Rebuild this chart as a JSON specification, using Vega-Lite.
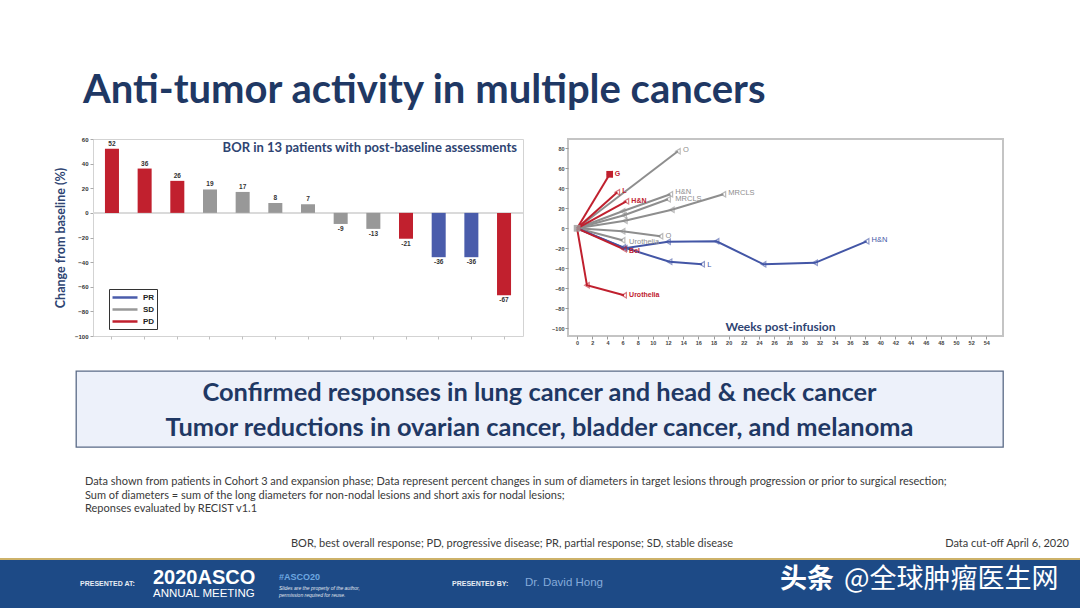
{
 "$schema": "https://vega.github.io/schema/vega-lite/v6.json",
 "background": "#ffffff",
 "padding": 0,
 "spacing": 0,
 "bounds": "flush",
 "config": {"view": {"stroke": null}, "font": "Liberation Sans", "axis": {"grid": false, "labelOverlap": false}},
 "datasets": {
  "bor": [
   {"id": 1, "chg": 52, "bor": "PD"}, {"id": 2, "chg": 36, "bor": "PD"}, {"id": 3, "chg": 26, "bor": "PD"},
   {"id": 4, "chg": 19, "bor": "SD"}, {"id": 5, "chg": 17, "bor": "SD"}, {"id": 6, "chg": 8, "bor": "SD"},
   {"id": 7, "chg": 7, "bor": "SD"}, {"id": 8, "chg": -9, "bor": "SD"}, {"id": 9, "chg": -13, "bor": "SD"},
   {"id": 10, "chg": -21, "bor": "PD"}, {"id": 11, "chg": -36, "bor": "PR"}, {"id": 12, "chg": -36, "bor": "PR"},
   {"id": 13, "chg": -67, "bor": "PD"}
  ],
  "spider": [
   {"s": "s6", "g": "SD", "o": 0, "w": 0, "v": 0}, {"s": "s6", "g": "SD", "o": 1, "w": 13.3, "v": 77},
   {"s": "s7", "g": "SD", "o": 0, "w": 0, "v": 0}, {"s": "s7", "g": "SD", "o": 1, "w": 6, "v": 17}, {"s": "s7", "g": "SD", "o": 2, "w": 12.3, "v": 34},
   {"s": "s8", "g": "SD", "o": 0, "w": 0, "v": 0}, {"s": "s8", "g": "SD", "o": 1, "w": 6.2, "v": 13}, {"s": "s8", "g": "SD", "o": 2, "w": 12, "v": 29},
   {"s": "s9", "g": "SD", "o": 0, "w": 0, "v": 0}, {"s": "s9", "g": "SD", "o": 1, "w": 6.3, "v": 7.5}, {"s": "s9", "g": "SD", "o": 2, "w": 12.5, "v": 18.5}, {"s": "s9", "g": "SD", "o": 3, "w": 19.3, "v": 34},
   {"s": "s10", "g": "SD", "o": 0, "w": 0, "v": 0}, {"s": "s10", "g": "SD", "o": 1, "w": 6, "v": -3}, {"s": "s10", "g": "SD", "o": 2, "w": 11, "v": -8},
   {"s": "s11", "g": "SD", "o": 0, "w": 0, "v": 0}, {"s": "s11", "g": "SD", "o": 1, "w": 6, "v": -12},
   {"s": "s12", "g": "PR", "o": 0, "w": 0, "v": 0}, {"s": "s12", "g": "PR", "o": 1, "w": 6.3, "v": -20}, {"s": "s12", "g": "PR", "o": 2, "w": 12, "v": -13.5}, {"s": "s12", "g": "PR", "o": 3, "w": 18.4, "v": -13}, {"s": "s12", "g": "PR", "o": 4, "w": 24.6, "v": -36}, {"s": "s12", "g": "PR", "o": 5, "w": 31.4, "v": -34.5}, {"s": "s12", "g": "PR", "o": 6, "w": 38.2, "v": -13},
   {"s": "s13", "g": "PR", "o": 0, "w": 0, "v": 0}, {"s": "s13", "g": "PR", "o": 1, "w": 6.1, "v": -19}, {"s": "s13", "g": "PR", "o": 2, "w": 12.2, "v": -33.5}, {"s": "s13", "g": "PR", "o": 3, "w": 16.5, "v": -36},
   {"s": "s1", "g": "PD", "o": 0, "w": 0, "v": 0}, {"s": "s1", "g": "PD", "o": 1, "w": 4.3, "v": 54},
   {"s": "s2", "g": "PD", "o": 0, "w": 0, "v": 0}, {"s": "s2", "g": "PD", "o": 1, "w": 5.3, "v": 36},
   {"s": "s3", "g": "PD", "o": 0, "w": 0, "v": 0}, {"s": "s3", "g": "PD", "o": 1, "w": 6.5, "v": 27},
   {"s": "s4", "g": "PD", "o": 0, "w": 0, "v": 0}, {"s": "s4", "g": "PD", "o": 1, "w": 6.2, "v": -21},
   {"s": "s5", "g": "PD", "o": 0, "w": 0, "v": 0}, {"s": "s5", "g": "PD", "o": 1, "w": 1.3, "v": -57}, {"s": "s5", "g": "PD", "o": 2, "w": 6.2, "v": -67}
  ],
  "slab": [
   {"lab": "G", "g": "PD", "w": 4.3, "v": 54}, {"lab": "L", "g": "PD", "w": 5.3, "v": 37},
   {"lab": "H&N", "g": "PD", "w": 6.5, "v": 27}, {"lab": "Bel", "g": "PD", "w": 6.2, "v": -23},
   {"lab": "Urothelia", "g": "PD", "w": 6.2, "v": -67},
   {"lab": "O", "g": "SD", "w": 13.3, "v": 78}, {"lab": "H&N", "g": "SD", "w": 12.3, "v": 36},
   {"lab": "MRCLS", "g": "SD", "w": 12.3, "v": 29}, {"lab": "MRCLS", "g": "SD", "w": 19.3, "v": 35},
   {"lab": "O", "g": "SD", "w": 11, "v": -8}, {"lab": "Urothelia", "g": "SD", "w": 6.2, "v": -14},
   {"lab": "H&N", "g": "PR", "w": 38.2, "v": -12}, {"lab": "L", "g": "PR", "w": 16.5, "v": -37}
  ]
 },
 "vconcat": [
  {
   "width": 1080, "height": 139,
   "data": {"values": [{"t": "Anti-tumor activity in multiple cancers"}]},
   "mark": {"type": "text", "align": "left", "baseline": "alphabetic", "font": "Lato", "fontSize": 40, "fontWeight": "bold", "color": "#1F3864"},
   "encoding": {"text": {"field": "t"}, "x": {"value": 83}, "y": {"value": 103}}
  },
  {
   "spacing": 0, "bounds": "flush",
   "resolve": {"scale": {"color": "independent"}, "legend": {"color": "independent"}},
   "hconcat": [
    {"width": 93, "height": 197, "data": {"values": [{}]}, "mark": {"type": "text", "text": ""}},
    {
     "width": 430, "height": 197,
     "view": {"stroke": "#d3d3d3", "strokeWidth": 1},
     "title": {"text": "BOR in 13 patients with post-baseline assessments", "anchor": "end", "frame": "group", "orient": "top", "offset": -19, "dx": -6, "font": "Lato", "fontSize": 13, "fontWeight": "bold", "color": "#2E4472"},
     "data": {"name": "bor"},
     "resolve": {"legend": {"color": "independent"}},
     "layer": [
      {"mark": {"type": "rule", "color": "#dadada", "strokeWidth": 1},
       "encoding": {"y": {"datum": 0, "type": "quantitative", "scale": {"domain": [-100, 60], "nice": false}, "axis": {"labelOverlap": false, "tickCount": 60}}}},
      {"mark": {"type": "bar"},
       "encoding": {
        "x": {"field": "id", "type": "ordinal", "scale": {"paddingInner": 0.571, "paddingOuter": 0.366},
              "axis": {"labels": false, "title": null, "ticks": true, "tickSize": 3, "tickColor": "#c0c0c0", "domain": false}},
        "y": {"field": "chg", "type": "quantitative", "scale": {"domain": [-100, 60], "nice": false},
              "axis": {"values": [-100, -80, -60, -40, -20, 0, 20, 40, 60], "tickCount": 60, "title": "Change from baseline (%)", "titleFont": "Lato", "titleFontSize": 12.5, "titleFontWeight": "bold", "titleColor": "#2E4472", "titlePadding": 7,
                       "labelFontSize": 6, "labelFontWeight": "bold", "labelColor": "#333333", "tickSize": 3, "tickColor": "#aaaaaa", "labelPadding": 2, "domain": false, "labelOverlap": false}},
        "color": {"field": "bor", "type": "nominal", "scale": {"domain": ["PR", "SD", "PD"], "range": ["#4A5CAB", "#989898", "#C1202E"]}, "legend": null}
       }},
      {"transform": [{"filter": "datum.chg >= 0"}], "mark": {"type": "text", "baseline": "bottom", "dy": -2, "fontSize": 6.5, "fontWeight": "bold", "color": "#333333"},
       "encoding": {"x": {"field": "id", "type": "ordinal"}, "y": {"field": "chg", "type": "quantitative"}, "text": {"field": "chg"}}},
      {"transform": [{"filter": "datum.chg < 0"}], "mark": {"type": "text", "baseline": "top", "dy": 2, "fontSize": 6.5, "fontWeight": "bold", "color": "#333333"},
       "encoding": {"x": {"field": "id", "type": "ordinal"}, "y": {"field": "chg", "type": "quantitative"}, "text": {"field": "chg"}}},
      {"transform": [{"filter": "false"}], "mark": {"type": "line"},
       "encoding": {
        "x": {"field": "id", "type": "ordinal"}, "y": {"field": "chg", "type": "quantitative"},
        "color": {"field": "bor", "type": "nominal", "scale": {"domain": ["PR", "SD", "PD"], "range": ["#4A5CAB", "#989898", "#C1202E"]},
                  "legend": {"orient": "none", "legendX": 16, "legendY": 150, "title": null, "symbolType": "M-1,0H4", "symbolSize": 100, "symbolStrokeWidth": 2.5,
                             "labelFontSize": 8, "labelFontWeight": "bold", "labelColor": "#222222", "labelOffset": 19, "strokeColor": "#333333", "fillColor": "#ffffff", "padding": 2, "rowPadding": 0}}
       }}
     ]
    },
    {"width": 45, "height": 197, "data": {"values": [{}]}, "mark": {"type": "text", "text": ""}},
    {
     "width": 435, "height": 197,
     "view": {"stroke": "#c4c4c4", "strokeWidth": 2},
     "layer": [
      {"mark": {"type": "rule", "color": "#E57373", "strokeWidth": 1, "strokeDash": [1, 2]},
       "encoding": {"y": {"datum": 20, "type": "quantitative", "scale": {"domain": [-107.7, 89.3], "nice": false, "zero": false}, "axis": {"labelOverlap": false, "tickCount": 60}}}},
      {"mark": {"type": "rule", "color": "#9a9a9a", "strokeWidth": 1},
       "encoding": {"y": {"datum": 0, "type": "quantitative", "axis": {"labelOverlap": false, "tickCount": 60}}}},
      {"mark": {"type": "rule", "color": "#8CC68C", "strokeWidth": 1, "strokeDash": [1, 2]},
       "encoding": {"y": {"datum": -30, "type": "quantitative", "axis": {"labelOverlap": false, "tickCount": 60}}}},
      {"data": {"name": "spider"}, "mark": {"type": "line", "strokeWidth": 2},
       "encoding": {
        "x": {"field": "w", "type": "quantitative", "scale": {"domain": [-1.2, 56.2], "nice": false, "zero": false},
              "axis": {"values": [0, 2, 4, 6, 8, 10, 12, 14, 16, 18, 20, 22, 24, 26, 28, 30, 32, 34, 36, 38, 40, 42, 44, 46, 48, 50, 52, 54], "tickCount": 60,
                       "title": "Weeks post-infusion", "titleFont": "Lato", "titleFontSize": 12, "titleFontWeight": "bold", "titleColor": "#2E4472", "titleY": -6, "titleX": 212, "titleBaseline": "alphabetic",
                       "labelFontSize": 5.5, "labelFontWeight": "bold", "labelColor": "#444444", "tickSize": 3, "tickColor": "#999999", "labelPadding": 1, "domain": false, "labelFlush": false, "labelOverlap": false}},
        "y": {"field": "v", "type": "quantitative", "scale": {"domain": [-107.7, 89.3], "nice": false, "zero": false},
              "axis": {"values": [-100, -80, -60, -40, -20, 0, 20, 40, 60, 80], "tickCount": 60, "title": null, "labelFontSize": 5.5, "labelFontWeight": "bold", "labelColor": "#444444", "tickSize": 3, "tickColor": "#999999", "labelPadding": 1, "domain": false, "labelOverlap": false}},
        "detail": {"field": "s"},
        "order": {"field": "o", "type": "quantitative"},
        "color": {"field": "g", "type": "nominal", "scale": {"domain": ["PR", "SD", "PD"], "range": ["#4356A6", "#8E8E8E", "#C0202E"]}, "legend": null}
       }},
      {"data": {"name": "spider"}, "transform": [{"filter": "datum.w > 0"}], "mark": {"type": "point", "shape": "triangle-left", "filled": false, "size": 28, "strokeWidth": 1.2, "opacity": 0.6},
       "encoding": {
        "x": {"field": "w", "type": "quantitative"},
        "y": {"field": "v", "type": "quantitative"},
        "color": {"field": "g", "type": "nominal", "legend": null}
       }},
      {"data": {"name": "spider"}, "transform": [{"filter": "datum.s == 's1' && datum.w > 0"}], "mark": {"type": "square", "color": "#C0202E", "size": 45, "opacity": 1},
       "encoding": {
        "x": {"field": "w", "type": "quantitative"},
        "y": {"field": "v", "type": "quantitative"}
       }},
      {"data": {"values": [{"w": 0, "v": 0}]}, "mark": {"type": "square", "color": "#9a9a9a", "size": 45, "opacity": 0.8},
       "encoding": {
        "x": {"field": "w", "type": "quantitative"},
        "y": {"field": "v", "type": "quantitative"}
       }},
      {"data": {"name": "slab"}, "transform": [{"filter": "datum.g == 'PD'"}], "mark": {"type": "text", "align": "left", "baseline": "middle", "dx": 5, "fontSize": 7, "fontWeight": "bold"},
       "encoding": {
        "x": {"field": "w", "type": "quantitative"},
        "y": {"field": "v", "type": "quantitative"},
        "text": {"field": "lab"},
        "color": {"field": "g", "type": "nominal", "legend": null}
       }},
      {"data": {"name": "slab"}, "transform": [{"filter": "datum.g != 'PD'"}], "mark": {"type": "text", "align": "left", "baseline": "middle", "dx": 5, "fontSize": 7.5},
       "encoding": {
        "x": {"field": "w", "type": "quantitative"},
        "y": {"field": "v", "type": "quantitative"},
        "text": {"field": "lab"},
        "color": {"field": "g", "type": "nominal", "legend": null}
       }}
     ]
    }
   ]
  },
  {"width": 1080, "height": 232, "data": {"values": [{}]}, "mark": {"type": "text", "text": ""}},
  {
   "spacing": 0, "bounds": "flush",
   "hconcat": [
    {"width": 76, "height": 76, "data": {"values": [{}]}, "mark": {"type": "text", "text": ""}},
    {
     "width": 927, "height": 76,
     "view": {"fill": "#EDF1FA", "stroke": "#5A6A86", "strokeWidth": 1.3},
     "data": {"values": [{"i": 1, "t": "Confirmed responses in lung cancer and head & neck cancer"}, {"i": 2, "t": "Tumor reductions in ovarian cancer, bladder cancer, and melanoma"}]},
     "mark": {"type": "text", "font": "Lato", "fontSize": 25.4, "fontWeight": "bold", "color": "#1F3864", "baseline": "middle", "dy": 1.5},
     "encoding": {"text": {"field": "t"}, "y": {"field": "i", "type": "ordinal", "axis": null, "scale": {"type": "point", "padding": 0.586}}}
    }
   ]
  },
  {
   "width": 1080, "height": 187,
   "layer": [
    {"data": {"values": [
      {"i": 1, "t": "Data shown from patients in Cohort 3 and expansion phase; Data represent percent changes in sum of diameters in target lesions through progression or prior to surgical resection;"},
      {"i": 2, "t": "Sum of diameters = sum of the long diameters for non-nodal lesions and short axis for nodal lesions;"},
      {"i": 3, "t": "Reponses evaluated by RECIST v1.1"}]},
     "mark": {"type": "text", "align": "left", "baseline": "middle", "font": "Lato", "fontSize": 11, "color": "#3a3a3a"},
     "encoding": {"text": {"field": "t"}, "x": {"value": 85}, "y": {"field": "i", "type": "ordinal", "axis": null, "scale": {"type": "point", "range": [111, 138], "padding": 0}}}},
    {"data": {"values": [{"t": "BOR, best overall response; PD, progressive disease; PR, partial response; SD, stable disease"}]},
     "mark": {"type": "text", "align": "left", "baseline": "middle", "font": "Lato", "fontSize": 11, "color": "#3a3a3a"},
     "encoding": {"text": {"field": "t"}, "x": {"value": 291}, "y": {"value": 173}}},
    {"data": {"values": [{"t": "Data cut-off April 6, 2020"}]},
     "mark": {"type": "text", "align": "right", "baseline": "middle", "font": "Lato", "fontSize": 11, "color": "#3a3a3a"},
     "encoding": {"text": {"field": "t"}, "x": {"value": 1069}, "y": {"value": 173}}}
   ]
  },
  {"width": 1080, "height": 2, "view": {"fill": "#CDB26A"}, "data": {"values": [{}]}, "mark": {"type": "text", "text": ""}},
  {
   "width": 1080, "height": 48,
   "view": {"fill": "#1D4A86"},
   "layer": [
    {"data": {"values": [{"t": "PRESENTED AT:"}]}, "mark": {"type": "text", "align": "left", "baseline": "middle", "fontSize": 7, "fontWeight": "bold", "color": "#E6ECF3"},
     "encoding": {"text": {"field": "t"}, "x": {"value": 80}, "y": {"value": 24}}},
    {"data": {"values": [{"t": "2020ASCO"}]}, "mark": {"type": "text", "align": "left", "baseline": "middle", "fontSize": 20, "fontWeight": "bold", "color": "#ffffff"},
     "encoding": {"text": {"field": "t"}, "x": {"value": 153}, "y": {"value": 18}}},
    {"data": {"values": [{"t": "ANNUAL MEETING"}]}, "mark": {"type": "text", "align": "left", "baseline": "middle", "fontSize": 11.5, "color": "#ffffff"},
     "encoding": {"text": {"field": "t"}, "x": {"value": 153}, "y": {"value": 34}}},
    {"data": {"values": [{"t": "#ASCO20"}]}, "mark": {"type": "text", "align": "left", "baseline": "middle", "fontSize": 9, "fontWeight": "bold", "color": "#6DA7E0"},
     "encoding": {"text": {"field": "t"}, "x": {"value": 279}, "y": {"value": 17}}},
    {"data": {"values": [{"t": "Slides are the property of the author,"}]}, "mark": {"type": "text", "align": "left", "baseline": "middle", "fontSize": 5, "fontStyle": "italic", "color": "#E0E6EE"},
     "encoding": {"text": {"field": "t"}, "x": {"value": 279}, "y": {"value": 28}}},
    {"data": {"values": [{"t": "permission required for reuse."}]}, "mark": {"type": "text", "align": "left", "baseline": "middle", "fontSize": 5, "fontStyle": "italic", "color": "#E0E6EE"},
     "encoding": {"text": {"field": "t"}, "x": {"value": 279}, "y": {"value": 35}}},
    {"data": {"values": [{"t": "PRESENTED BY:"}]}, "mark": {"type": "text", "align": "left", "baseline": "middle", "fontSize": 7, "fontWeight": "bold", "color": "#E6ECF3"},
     "encoding": {"text": {"field": "t"}, "x": {"value": 452}, "y": {"value": 24}}},
    {"data": {"values": [{"t": "Dr. David Hong"}]}, "mark": {"type": "text", "align": "left", "baseline": "middle", "fontSize": 11.5, "color": "#85AADA"},
     "encoding": {"text": {"field": "t"}, "x": {"value": 525}, "y": {"value": 23}}},
    {"data": {"values": [{"t": "头条"}]}, "mark": {"type": "text", "align": "left", "baseline": "middle", "font": "Noto Sans CJK SC", "fontSize": 27, "fontWeight": "bold", "color": "#ffffff"},
     "encoding": {"text": {"field": "t"}, "x": {"value": 780}, "y": {"value": 20}}},
    {"data": {"values": [{"t": "@全球肿瘤医生网"}]}, "mark": {"type": "text", "align": "left", "baseline": "middle", "font": "Noto Sans CJK SC", "fontSize": 27, "color": "#ffffff"},
     "encoding": {"text": {"field": "t"}, "x": {"value": 844}, "y": {"value": 20}}}
   ]
  }
 ]
}
